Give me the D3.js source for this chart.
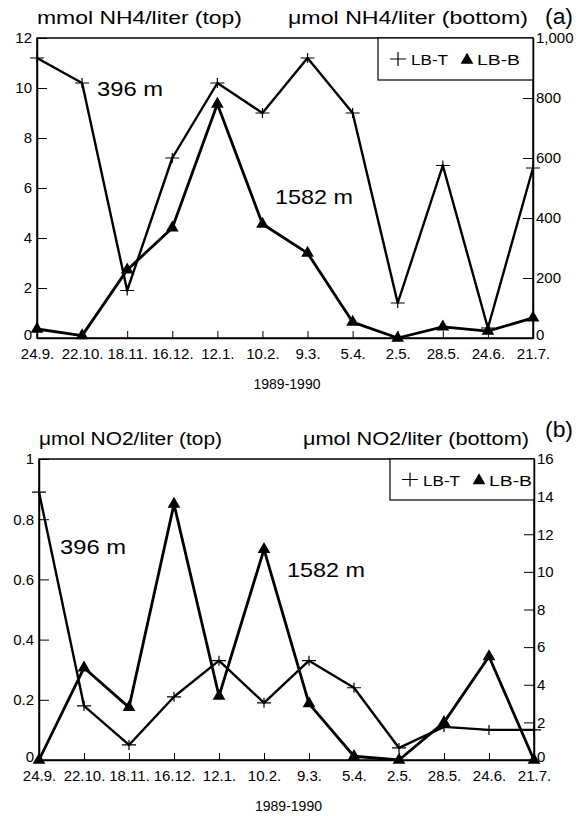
<!DOCTYPE html>
<html>
<head>
<meta charset="utf-8">
<script src="https://cdn.jsdelivr.net/npm/d3@7"></script>
<style>
body { margin: 0; background: #fff; }
svg { display: block; font-family: "Liberation Sans", Arial, Helvetica, sans-serif; }
</style>
</head>
<body>
<div id="chart"></div>
<script>
// sampling dates, 1989-1990
var dates = ["24.9.", "22.10.", "18.11.", "16.12.", "12.1.", "10.2.", "9.3.", "5.4.", "2.5.", "28.5.", "24.6.", "21.7."];
var seriesNames = ["LB-T", "LB-B"];
var yearLabel = "1989-1990";

// (a) NH4: LB-T in mmol/l (left axis), LB-B in umol/l (right axis)
var nh4Top = [11.2, 10.2, 1.9, 7.2, 10.2, 9.0, 11.2, 9.0, 1.4, 6.9, 0.4, 6.8];
var nh4Bottom = [30, 8, 227, 367, 780, 380, 283, 53, 0, 37, 23, 67];
var nh4TopTicks = [0, 2, 4, 6, 8, 10, 12];
var nh4BottomTicks = [0, 200, 400, 600, 800, 1000];

// (b) NO2: both in umol/l
var no2Top = [0.89, 0.18, 0.05, 0.21, 0.33, 0.19, 0.33, 0.24, 0.04, 0.11, 0.10, 0.10];
var no2Bottom = [0, 4.9, 2.8, 13.6, 3.4, 11.2, 3.0, 0.2, 0, 2.0, 5.5, 0];
var no2TopTicks = [0, 0.2, 0.4, 0.6, 0.8, 1];
var no2BottomTicks = [0, 2, 4, 6, 8, 10, 12, 14, 16];

var width = 581,
	height = 816;

var svg = d3.select("#chart").append("svg")
	.attr("width", width)
	.attr("height", height);

var crossPath = "M-7,0H7M0,-5V5";
var triPath = d3.symbol().type(d3.symbolTriangle).size(70)();

function stretchText(g, x, y, str, size, len) {
	var t = g.append("text")
		.attr("x", x)
		.attr("y", y)
		.style("font-size", size + "px")
		.text(str);
	if (len) t.attr("textLength", len).attr("lengthAdjust", "spacingAndGlyphs");
	return t;
}

function drawPanel(p) {
	var g = svg.append("g");

	var x = d3.scalePoint().domain(dates).range([p.left, p.right]);
	var yL = d3.scaleLinear().domain([0, d3.max(p.leftTicks)]).range([p.bottom, p.top]);
	var yR = d3.scaleLinear().domain([0, d3.max(p.rightTicks)]).range([p.bottom, p.top]);

	// frame
	g.append("rect")
		.attr("x", p.left).attr("y", p.top)
		.attr("width", p.right - p.left).attr("height", p.bottom - p.top)
		.style("fill", "none").style("stroke", "black").style("stroke-width", 1.5);

	var xAxis = g.append("g")
		.attr("transform", "translate(0," + p.bottom + ")")
		.call(d3.axisBottom(x).tickSizeInner(-7).tickSizeOuter(0).tickPadding(10));
	var leftAxis = g.append("g")
		.attr("transform", "translate(" + p.left + ",0)")
		.call(d3.axisLeft(yL).tickValues(p.leftTicks).tickFormat(d3.format("~g"))
			.tickSizeInner(-10).tickSizeOuter(0).tickPadding(5));
	var rightAxis = g.append("g")
		.attr("transform", "translate(" + p.right + ",0)")
		.call(d3.axisRight(yR).tickValues(p.rightTicks).tickFormat(d3.format(","))
			.tickSizeInner(-10).tickSizeOuter(0).tickPadding(3));

	[xAxis, leftAxis, rightAxis].forEach(function(a) {
		a.select(".domain").style("stroke-width", 1.5);
		a.selectAll(".tick line").style("stroke-width", 1);
		a.selectAll("text").style("font-size", "15px").attr("fill", "black")
			.style("font-family", "'Liberation Sans', Arial, sans-serif");
	});
	xAxis.selectAll("text").attr("dy", "0.72em");
	// bottom zero labels sit a little high, as in the original
	leftAxis.selectAll(".tick text").filter(function(d) { return d === 0; }).attr("dy", "0.1em");
	rightAxis.selectAll(".tick text").filter(function(d) { return d === 0; }).attr("dy", "0.1em");

	// lines
	var lineL = d3.line().x(function(d, i) { return x(dates[i]); }).y(function(d) { return yL(d); });
	var lineR = d3.line().x(function(d, i) { return x(dates[i]); }).y(function(d) { return yR(d); });

	g.append("path").datum(p.topSeries)
		.attr("d", lineL)
		.style("fill", "none").style("stroke", "black").style("stroke-width", 2.4)
		.style("stroke-linejoin", "round");
	g.append("path").datum(p.bottomSeries)
		.attr("d", lineR)
		.style("fill", "none").style("stroke", "black").style("stroke-width", 2.8)
		.style("stroke-linejoin", "round");

	g.selectAll("path.cross")
		.data(p.topSeries)
		.enter()
			.append("path")
			.attr("class", "cross")
			.attr("d", crossPath)
			.attr("transform", function(d, i) { return "translate(" + x(dates[i]) + "," + yL(d) + ")"; })
			.style("stroke", "black").style("stroke-width", 1.2);
	g.selectAll("path.tri")
		.data(p.bottomSeries)
		.enter()
			.append("path")
			.attr("class", "tri")
			.attr("d", triPath)
			.attr("transform", function(d, i) { return "translate(" + x(dates[i]) + "," + yR(d) + ")"; })
			.style("fill", "black");

	// legend
	var lg = g.append("g");
	lg.append("rect")
		.attr("x", p.legend[0]).attr("y", p.top)
		.attr("width", p.right - p.legend[0]).attr("height", p.legend[1] - p.top)
		.style("fill", "white").style("stroke", "black").style("stroke-width", 1.2);
	var ly = (p.top + p.legend[1]) / 2;
	lg.append("path").attr("d", "M-8,0H8M0,-7V7")
		.attr("transform", "translate(" + (p.legend[0] + 20) + "," + ly + ")")
		.style("stroke", "black").style("stroke-width", 1.2);
	stretchText(lg, p.legend[0] + 33, ly + 6, seriesNames[0], 14, 37);
	lg.append("path").attr("d", triPath)
		.attr("transform", "translate(" + (p.legend[0] + 89) + "," + (ly + 1) + ")")
		.style("fill", "black");
	stretchText(lg, p.legend[0] + 99, ly + 6, seriesNames[1], 14, 43);

	// titles
	stretchText(g, p.left, p.top - 14, p.titleLeft, 18, p.titleLeftLen);
	stretchText(g, p.titleRightX, p.top - 14, p.titleRight, 18, p.right - 5 - p.titleRightX);
	stretchText(g, 545, p.top - 14 - p.tagLift, p.tag, 22, 28);

	// depth labels
	stretchText(g, p.ann396[0], p.ann396[1], "396 m", 21, 66);
	stretchText(g, p.ann1582[0], p.ann1582[1], "1582 m", 21, 78);

	g.append("text")
		.attr("x", (p.left + p.right) / 2 + 2)
		.attr("y", p.bottom + 51)
		.attr("text-anchor", "middle")
		.style("font-size", "14px")
		.text(yearLabel);
}

drawPanel({
	left: 37, right: 533, top: 38, bottom: 338,
	topSeries: nh4Top, bottomSeries: nh4Bottom,
	leftTicks: nh4TopTicks, rightTicks: nh4BottomTicks,
	legend: [378, 80],
	titleLeft: "mmol NH4/liter (top)", titleLeftLen: 205,
	titleRight: "\u03bcmol NH4/liter (bottom)", titleRightX: 288,
	tag: "(a)", tagLift: 0,
	ann396: [97, 96], ann1582: [275, 204]
});

drawPanel({
	left: 39, right: 534, top: 459, bottom: 760,
	topSeries: no2Top, bottomSeries: no2Bottom,
	leftTicks: no2TopTicks, rightTicks: no2BottomTicks,
	legend: [390, 500],
	titleLeft: "\u03bcmol NO2/liter (top)", titleLeftLen: 183,
	titleRight: "\u03bcmol NO2/liter (bottom)", titleRightX: 303,
	tag: "(b)", tagLift: 8,
	ann396: [60, 554], ann1582: [287, 577]
});
</script>
</body>
</html>
